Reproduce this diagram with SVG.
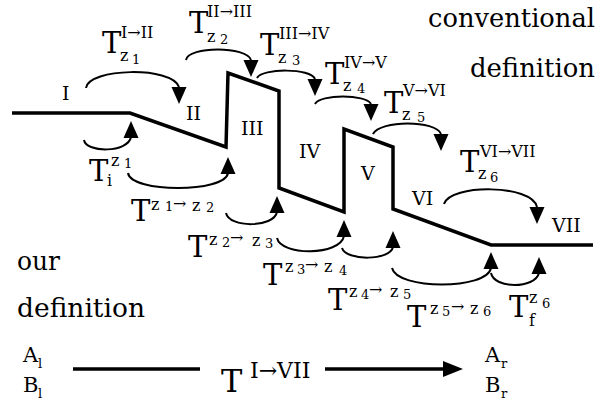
<svg xmlns="http://www.w3.org/2000/svg" xmlns:xlink="http://www.w3.org/1999/xlink" width="613" height="415" viewBox="0 0 613 415">
<style>
.big{font-size:29px}
.sup{font-size:16px}
.sm{font-size:13px}
.word{font-size:26px;font-family:'DejaVu Serif',serif}
.num{font-size:19px}
.arc{fill:none;stroke:#000;stroke-width:2}
.profile{fill:none;stroke:#000;stroke-width:3.5;stroke-linejoin:miter}
.bar{fill:none;stroke:#000;stroke-width:3.5}
</style>
<defs>
<path id="hd" d="M-7.5,-17 L7.5,-17 L0,0 Z" fill="#000"/>
<path id="hu" d="M-7.5,17 L7.5,17 L0,0 Z" fill="#000"/>
</defs>
<rect width="613" height="415" fill="#fff"/>

<g id="profile">
<path class="profile" d="M12,113 L130,113 L226,147 L228,73 L279,91 L279,188 L344,212 L344,129 L393,147 L393,209 L491,245 L593,245"/>
</g>

<g id="connectors">
<path class="arc" d="M86,88 C88,68 172,66 179,87"/>
<use xlink:href="#hd" x="179" y="104"/>
<path class="arc" d="M186,60 C188,46 247,46 251,60"/>
<use xlink:href="#hd" x="251" y="77"/>
<path class="arc" d="M257,78 C262,68 311,68 315,79"/>
<use xlink:href="#hd" x="315" y="96"/>
<path class="arc" d="M315,104 C320,94 366,94 371,104"/>
<use xlink:href="#hd" x="371" y="121"/>
<path class="arc" d="M373,134 C380,120 436,120 441,134"/>
<use xlink:href="#hd" x="441" y="151"/>
<path class="arc" d="M444,204 C450,184 532,184 537,207"/>
<use xlink:href="#hd" x="537" y="224"/>

<path class="arc" d="M84,140 C86,153 128,153 131,137"/>
<use xlink:href="#hu" x="131" y="121"/>
<path class="arc" d="M128,173 C131,193 225,193 228,173"/>
<use xlink:href="#hu" x="228" y="157"/>
<path class="arc" d="M226,213 C229,228 274,228 277,212"/>
<use xlink:href="#hu" x="277" y="196"/>
<path class="arc" d="M277,238 C281,256 340,256 344,236"/>
<use xlink:href="#hu" x="344" y="220"/>
<path class="arc" d="M342,248 C346,261 390,261 393,247"/>
<use xlink:href="#hu" x="393" y="231"/>
<path class="arc" d="M392,268 C397,290 487,290 491,268"/>
<use xlink:href="#hu" x="491" y="252"/>
<path class="arc" d="M491,273 C494,289 535,289 539,273"/>
<use xlink:href="#hu" x="539" y="257"/>

<path class="bar" d="M73,369 L200,369 M325,369 L446,369"/>
<path d="M443,361 L443,377 L463,369 Z" fill="#000"/>
</g>

<g font-family="'DejaVu Serif', serif" fill="#000">
<g id="regions">
<text class="num" x="62" y="100">I</text>
<text class="num" x="186" y="120">II</text>
<text class="num" x="241" y="135">III</text>
<text class="num" x="299" y="158">IV</text>
<text class="num" x="361" y="180">V</text>
<text class="num" x="412" y="205">VI</text>
<text class="num" x="552" y="232">VII</text>
</g>

<g id="conv-labels">
<text><tspan class="big" x="102" y="53">T</tspan><tspan class="sup" x="121" y="38">I→II</tspan><tspan class="sup" x="120" y="61">z</tspan><tspan class="sm" x="132" y="64">1</tspan></text>
<text><tspan class="big" x="189" y="33">T</tspan><tspan class="sup" x="207" y="17">II→III</tspan><tspan class="sup" x="207" y="42">z</tspan><tspan class="sm" x="220" y="44">2</tspan></text>
<text><tspan class="big" x="260" y="55">T</tspan><tspan class="sup" x="279" y="39">III→IV</tspan><tspan class="sup" x="278" y="63">z</tspan><tspan class="sm" x="292" y="65">3</tspan></text>
<text><tspan class="big" x="325" y="84">T</tspan><tspan class="sup" x="344" y="68">IV→V</tspan><tspan class="sup" x="343" y="91">z</tspan><tspan class="sm" x="357" y="93">4</tspan></text>
<text><tspan class="big" x="384" y="113">T</tspan><tspan class="sup" x="403" y="96">V→VI</tspan><tspan class="sup" x="402" y="120">z</tspan><tspan class="sm" x="417" y="122">5</tspan></text>
<text><tspan class="big" x="460" y="172">T</tspan><tspan class="sup" x="480" y="157">VI→VII</tspan><tspan class="sup" x="478" y="179">z</tspan><tspan class="sm" x="490" y="182">6</tspan></text>
</g>

<g id="our-labels">
<text><tspan class="big" x="89" y="181">T</tspan><tspan class="sup" x="107" y="186">i</tspan><tspan class="sup" x="111" y="166">z</tspan><tspan class="sm" x="124" y="168">1</tspan></text>
<text><tspan class="big" x="131" y="221">T</tspan><tspan class="sup" x="151" y="210">z</tspan><tspan class="sm" x="165" y="211">1</tspan><tspan class="sup" x="173" y="209">→</tspan><tspan class="sup" x="192" y="211">z</tspan><tspan class="sm" x="206" y="212">2</tspan></text>
<text><tspan class="big" x="188" y="257">T</tspan><tspan class="sup" x="209" y="245">z</tspan><tspan class="sm" x="222" y="247">2</tspan><tspan class="sup" x="230" y="243">→</tspan><tspan class="sup" x="252" y="246">z</tspan><tspan class="sm" x="265" y="248">3</tspan></text>
<text><tspan class="big" x="263" y="285">T</tspan><tspan class="sup" x="285" y="272">z</tspan><tspan class="sm" x="297" y="274">3</tspan><tspan class="sup" x="305" y="270">→</tspan><tspan class="sup" x="324" y="272">z</tspan><tspan class="sm" x="339" y="275">4</tspan></text>
<text><tspan class="big" x="328" y="310">T</tspan><tspan class="sup" x="349" y="297">z</tspan><tspan class="sm" x="361" y="299">4</tspan><tspan class="sup" x="369" y="295">→</tspan><tspan class="sup" x="390" y="297">z</tspan><tspan class="sm" x="403" y="299">5</tspan></text>
<text><tspan class="big" x="407" y="327">T</tspan><tspan class="sup" x="430" y="314">z</tspan><tspan class="sm" x="442" y="316">5</tspan><tspan class="sup" x="451" y="312">→</tspan><tspan class="sup" x="470" y="314">z</tspan><tspan class="sm" x="483" y="316">6</tspan></text>
<text><tspan class="big" x="509" y="317">T</tspan><tspan class="sup" x="529" y="326">f</tspan><tspan class="sup" x="529" y="303">z</tspan><tspan class="sm" x="542" y="308">6</tspan></text>
</g>

<g id="captions">
<text class="word" x="428" y="27" textLength="167" lengthAdjust="spacingAndGlyphs">conventional</text>
<text class="word" x="470" y="77" textLength="125" lengthAdjust="spacingAndGlyphs">definition</text>
<text class="word" x="17" y="270" textLength="43" lengthAdjust="spacingAndGlyphs">our</text>
<text class="word" x="17" y="317" textLength="128" lengthAdjust="spacingAndGlyphs">definition</text>
</g>

<g id="state-left">
<text><tspan style="font-size:21px" x="23" y="362">A</tspan><tspan class="sm" x="38" y="368">l</tspan></text>
<text><tspan style="font-size:21px" x="23" y="392">B</tspan><tspan class="sm" x="38" y="398">l</tspan></text>
</g>
<g id="state-right">
<text><tspan style="font-size:21px" x="485" y="362">A</tspan><tspan class="sm" x="501" y="368">r</tspan></text>
<text><tspan style="font-size:21px" x="485" y="392">B</tspan><tspan class="sm" x="501" y="398">r</tspan></text>
</g>
<g id="overall-label">
<text><tspan style="font-size:32px" x="221" y="392">T</tspan><tspan style="font-size:22px" x="250" y="378">I→VII</tspan></text>
</g>
</g>
</svg>
